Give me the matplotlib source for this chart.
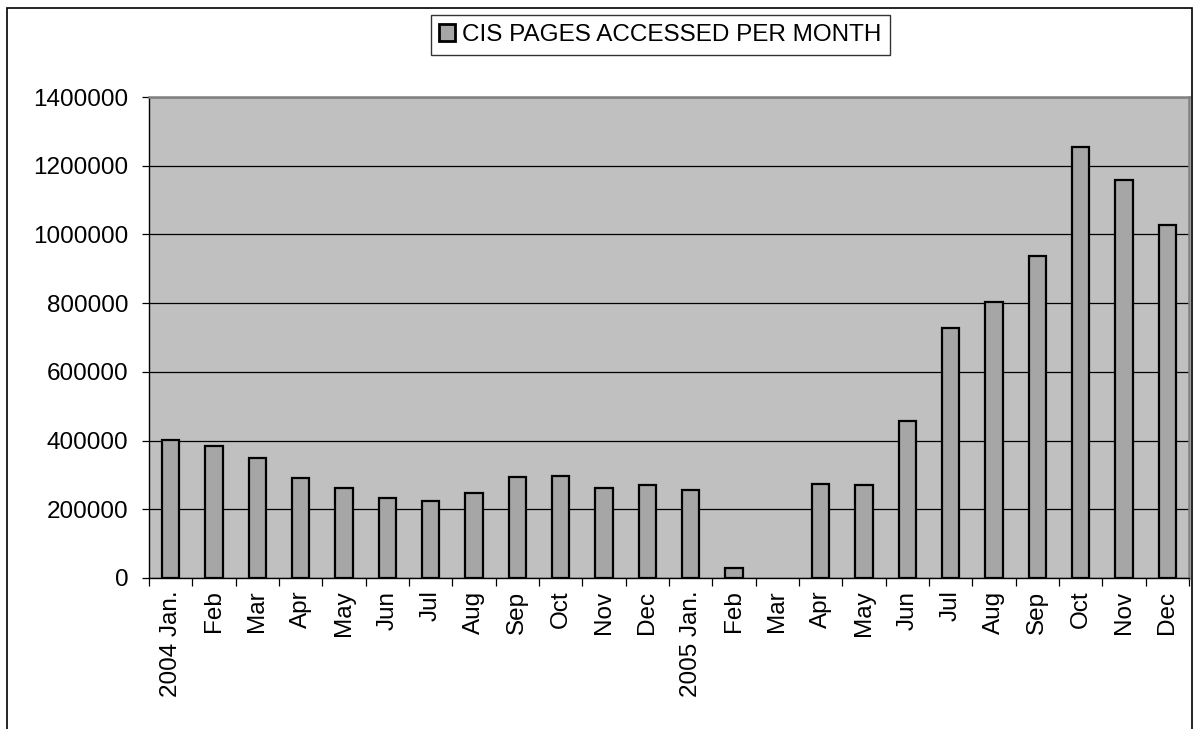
import matplotlib.pyplot as plt
from matplotlib.patches import Rectangle

# monthly page hits
months = ["2004 Jan.", "Feb", "Mar", "Apr", "May", "Jun", "Jul", "Aug", "Sep", "Oct", "Nov", "Dec",
          "2005 Jan.", "Feb", "Mar", "Apr", "May", "Jun", "Jul", "Aug", "Sep", "Oct", "Nov", "Dec"]
pages = [403000, 384000, 350000, 290000, 262000, 232000, 224000, 246000, 294000, 297000, 261000, 270000,
         257000, 28000, 0, 275000, 271000, 457000, 729000, 802000, 936000, 1255000, 1158000, 1027000]
yticks = [0, 200000, 400000, 600000, 800000, 1000000, 1200000, 1400000]

plt.rcParams["font.family"] = ["Liberation Sans", "DejaVu Sans"]

W, H = 1200, 729
fig = plt.figure(figsize=(W / 100, H / 100), dpi=100)

# outer chart frame
fig.patches.append(Rectangle((7 / W, -0.1), (1192 - 7) / W, 1.1 - 8 / H, transform=fig.transFigure,
                             fill=False, edgecolor="black", linewidth=1.2))

ax = fig.add_axes([149 / W, 1 - 578 / H, 1040 / W, 481 / H])
ax.set_facecolor("#c0c0c0")

x = list(range(len(months)))
bars = ax.bar(x, pages, width=0.4, color="#a6a6a6", edgecolor="black", linewidth=1.6,
              label="CIS PAGES ACCESSED PER MONTH", zorder=3)
# empty months draw nothing
for b, v in zip(bars, pages):
    if v == 0:
        b.set_visible(False)

ax.set_xlim(-0.5, len(months) - 0.5)
ax.set_ylim(0, 1400000)
ax.set_yticks(yticks)
ax.set_yticklabels([str(v) for v in yticks], fontsize=17.5)
ax.yaxis.grid(True, color="black", linewidth=0.9, zorder=1)
ax.tick_params(axis="y", direction="out", length=5, width=0.9, pad=10)

# labels centred, tick marks at category boundaries
ax.set_xticks(x)
ax.set_xticklabels(months, rotation=90, fontsize=17.5, va="top")
ax.tick_params(axis="x", which="major", length=0, pad=9)
ax.set_xticks([i - 0.5 for i in range(len(months) + 1)], minor=True)
ax.tick_params(axis="x", which="minor", direction="out", length=6, width=0.9)

for side in ["left", "bottom"]:
    ax.spines[side].set_color("black")
    ax.spines[side].set_linewidth(1.0)
for side in ["top", "right"]:
    ax.spines[side].set_color("#808080")
    ax.spines[side].set_linewidth(1.8)

leg = fig.legend(handles=[bars], loc="center", bbox_to_anchor=(660.5 / W, 1 - 35 / H),
                 fontsize=17.5, frameon=True, fancybox=False, handlelength=0.65, handleheight=0.7,
                 handletextpad=0.3, borderpad=0.35, borderaxespad=0)
leg.get_frame().set_edgecolor("black")
leg.get_frame().set_linewidth(1.0)
leg.legend_handles[0].set_linewidth(2.0)

fig.savefig("out.png", dpi=100)
